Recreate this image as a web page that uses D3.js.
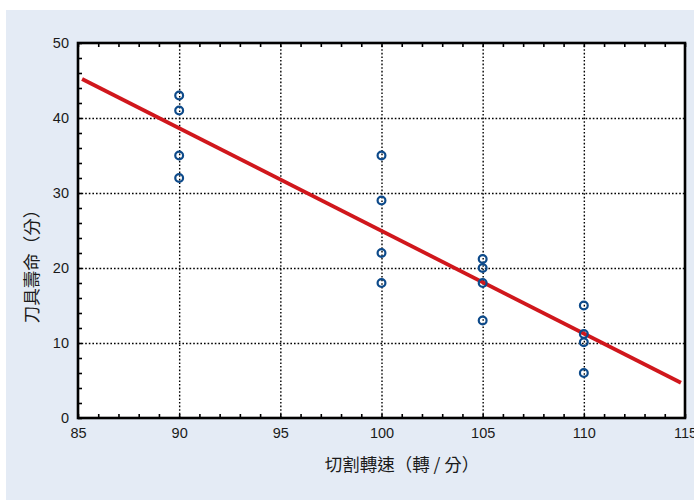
<!DOCTYPE html>
<html>
<head>
<meta charset="utf-8">
<script src="https://cdn.jsdelivr.net/npm/d3@7"></script>
<style>
  html, body { margin: 0; padding: 0; background: #ffffff; }
  svg { display: block; font-family: "Liberation Sans", Arial, sans-serif; }
  .tick-label text { font-size: 14.5px; fill: #1a1a1a; }
  .axis-title { font-size: 17.5px; fill: #1a1a1a; font-family: "Noto Sans CJK TC", "Noto Sans CJK SC", sans-serif; }
</style>
</head>
<body>
<svg id="chart"></svg>
<script>
// cutting speed (rev/min) vs tool life (min)
const speedValues = [90, 90, 90, 90, 100, 100, 100, 100, 105, 105, 105, 105, 110, 110, 110, 110];
const lifeValues = [43, 41, 35, 32, 35, 29, 22, 18, 21.2, 20, 18, 13, 15, 11.2, 10.1, 6];

// fitted line
const fitLineX = [85.2, 114.8];
const fitLineY = [45.2, 4.7];

const xTicks = [85, 90, 95, 100, 105, 110, 115];
const yTicks = [0, 10, 20, 30, 40, 50];
const xGrid = [90, 95, 100, 105, 110];
const yGrid = [10, 20, 30, 40];

const xTitle = '切割轉速（轉 / 分）';
const yTitle = '刀具壽命（分）';

const config = {
  width: 694,
  height: 501,
  plot: { left: 78, right: 685, top: 43, bottom: 418 },
  tickLength: 4,
};

const svg = d3.select('#chart')
  .attr('width', config.width)
  .attr('height', config.height);

// light blue panel behind everything
svg.append('rect')
  .attr('x', 6)
  .attr('y', 10)
  .attr('width', config.width - 6)
  .attr('height', config.height - 11)
  .attr('fill', '#e4ebf5');

const p = config.plot;
const plotW = p.right - p.left;
const plotH = p.bottom - p.top;

const xScale = d3.scaleLinear().domain([85, 115]).range([p.left, p.right]);
const yScale = d3.scaleLinear().domain([0, 50]).range([p.bottom, p.top]);

svg.append('rect')
  .attr('x', p.left)
  .attr('y', p.top)
  .attr('width', plotW)
  .attr('height', plotH)
  .attr('fill', '#ffffff');

// dotted gridlines
const gridX = svg.append('g')
  .attr('transform', `translate(0,${p.bottom})`)
  .call(d3.axisBottom(xScale).tickValues(xGrid).tickSize(-plotH).tickFormat(''));
const gridY = svg.append('g')
  .attr('transform', `translate(${p.left},0)`)
  .call(d3.axisLeft(yScale).tickValues(yGrid).tickSize(-plotW).tickFormat(''));
[gridX, gridY].forEach((g) => {
  g.select('.domain').remove();
  g.selectAll('line')
    .attr('stroke', '#000')
    .attr('stroke-width', 1.4)
    .attr('stroke-dasharray', '1.6,2');
});

// minor ticks pointing inward
const minorX = d3.range(85, 116, 1);
const minorY = d3.range(0, 51, 2);
const tickGroups = [
  svg.append('g').attr('transform', `translate(0,${p.bottom})`)
    .call(d3.axisBottom(xScale).tickValues(minorX).tickSize(-config.tickLength).tickFormat('')),
  svg.append('g').attr('transform', `translate(0,${p.top})`)
    .call(d3.axisTop(xScale).tickValues(minorX).tickSize(-config.tickLength).tickFormat('')),
  svg.append('g').attr('transform', `translate(${p.left},0)`)
    .call(d3.axisLeft(yScale).tickValues(minorY).tickSize(-config.tickLength).tickFormat('')),
];
tickGroups.forEach((g) => {
  g.select('.domain').remove();
  g.selectAll('line').attr('stroke', '#000').attr('stroke-width', 1.6);
});

// tick labels
const xLabels = svg.append('g')
  .attr('class', 'tick-label')
  .attr('transform', `translate(0,${p.bottom})`)
  .call(d3.axisBottom(xScale).tickValues(xTicks).tickSize(0).tickPadding(10));
const yLabels = svg.append('g')
  .attr('class', 'tick-label')
  .attr('transform', `translate(${p.left},0)`)
  .call(d3.axisLeft(yScale).tickValues(yTicks).tickSize(0).tickPadding(9));
[xLabels, yLabels].forEach((g) => {
  g.select('.domain').remove();
  g.selectAll('text').attr('font-family', '"Liberation Sans", Arial, sans-serif');
});

// plot frame
svg.append('rect')
  .attr('x', p.left)
  .attr('y', p.top)
  .attr('width', plotW)
  .attr('height', plotH)
  .attr('fill', 'none')
  .attr('stroke', '#000')
  .attr('stroke-width', 2.6);

// regression line
const fitData = fitLineX.map((x, i) => ({ x, y: fitLineY[i] }));
svg.append('path')
  .datum(fitData)
  .attr('d', d3.line().x((d) => xScale(d.x)).y((d) => yScale(d.y)))
  .attr('fill', 'none')
  .attr('stroke', '#d0171c')
  .attr('stroke-width', 3.8);

// observations
const points = speedValues.map((s, i) => ({ speed: s, life: lifeValues[i] }));
svg.append('g')
  .selectAll('circle')
  .data(points)
  .join('circle')
  .attr('cx', (d) => xScale(d.speed))
  .attr('cy', (d) => yScale(d.life))
  .attr('r', 3.9)
  .attr('fill', 'none')
  .attr('stroke', '#0d4a8a')
  .attr('stroke-width', 2.2);

// axis titles
svg.append('text')
  .attr('class', 'axis-title')
  .attr('x', 402)
  .attr('y', 471)
  .attr('text-anchor', 'middle')
  .text(xTitle);

svg.append('text')
  .attr('class', 'axis-title')
  .attr('transform', 'translate(38,262) rotate(-90)')
  .attr('text-anchor', 'middle')
  .text(yTitle);
</script>
</body>
</html>
